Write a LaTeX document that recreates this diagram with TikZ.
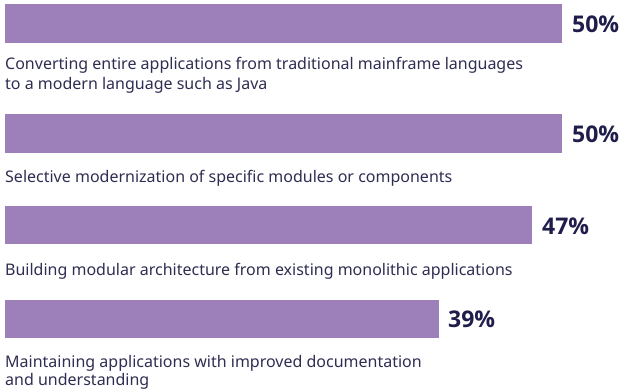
\documentclass[tikz,border=0pt]{standalone}
\usepackage{fontspec}
\setmainfont{Noto Sans}
\newfontfamily\pctfont{Open Sans}
\definecolor{barc}{HTML}{9D80B9}
\definecolor{txtc}{HTML}{2E2D52}
\definecolor{pctc}{HTML}{1F1D4A}
\begin{document}
\begin{tikzpicture}[x=1pt,y=-1pt,
  bar/.style={fill=barc,draw=none},
  lbl/.style={anchor=base west,inner sep=0pt,text=txtc,font=\fontsize{16}{20}\selectfont},
  pct/.style={anchor=base west,inner sep=0pt,text=pctc,font=\pctfont\bfseries\fontsize{23}{27}\selectfont}]
\useasboundingbox (0,0) rectangle (621,391);
% bar 1
\path[bar] (5,4) rectangle (562,43);
\node[pct] (p1) at (572,32) {50\%};
\node[lbl] (l1a) at (5,69) {Converting entire applications from traditional mainframe languages};
\node[lbl] (l1b) at (5,89) {to a modern language such as Java};
% bar 2
\path[bar] (5,114) rectangle (562,153);
\node[pct] (p2) at (572,142) {50\%};
\node[lbl] (l2) at (5,182) {Selective modernization of specific modules or components};
% bar 3
\path[bar] (5,206) rectangle (532,244);
\node[pct] (p3) at (542,234) {47\%};
\node[lbl] (l3) at (5,275) {Building modular architecture from existing monolithic applications};
% bar 4
\path[bar] (5,300) rectangle (439,338);
\node[pct] (p4) at (448,327) {39\%};
\node[lbl] (l4a) at (5,367) {Maintaining applications with improved documentation};
\node[lbl] (l4b) at (5,385) {and understanding};
\end{tikzpicture}
\end{document}
